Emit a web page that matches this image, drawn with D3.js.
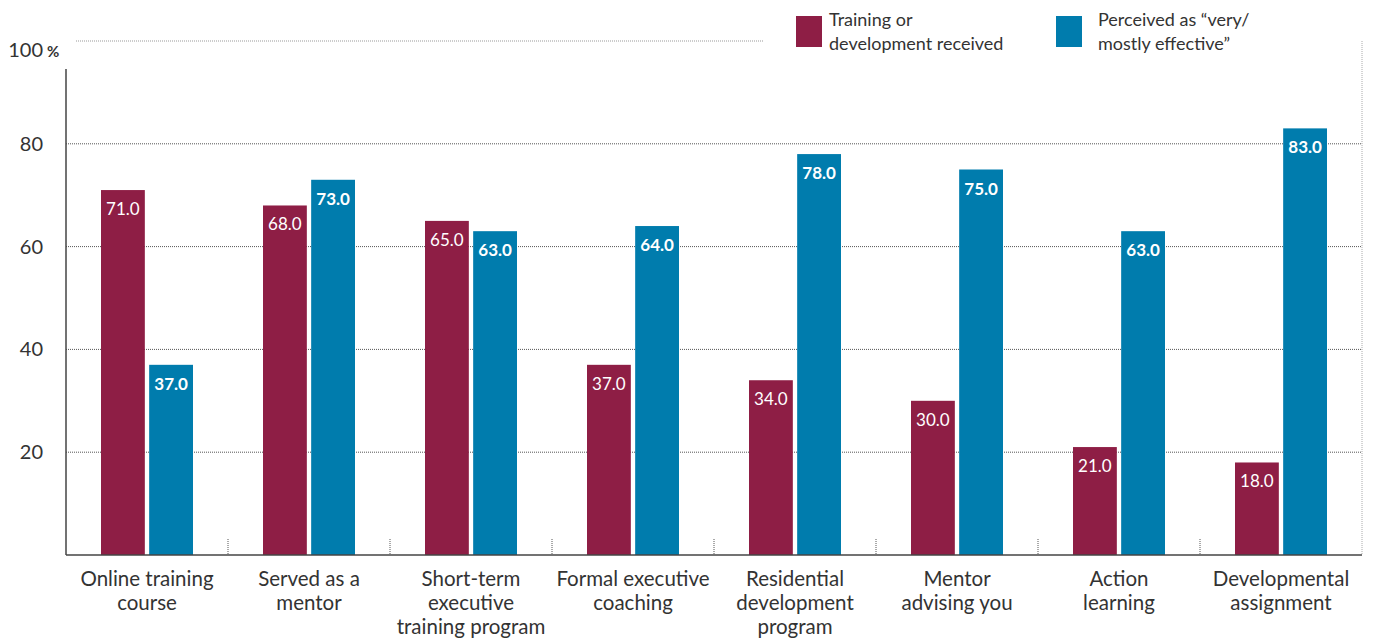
<!DOCTYPE html>
<html>
<head>
<meta charset="utf-8">
<script src="https://cdn.jsdelivr.net/npm/d3@7"></script>
<style>
  body { margin: 0; background: #fff; }
  svg { display: block; font-family: Lato, "Open Sans", sans-serif; }
</style>
</head>
<body>
<svg width="1375" height="639"></svg>
<script>
// data
var categories = [
  ["Online training", "course"],
  ["Served as a", "mentor"],
  ["Short-term", "executive", "training program"],
  ["Formal executive", "coaching"],
  ["Residential", "development", "program"],
  ["Mentor", "advising you"],
  ["Action", "learning"],
  ["Developmental", "assignment"]
];
var received = [71.0, 68.0, 65.0, 37.0, 34.0, 30.0, 21.0, 18.0];
var effective = [37.0, 73.0, 63.0, 64.0, 78.0, 75.0, 63.0, 83.0];
var yTicks = [20, 40, 60, 80, 100];
var seriesNames = ["received", "effective"];
var legendLabels = [["Training or", "development received"], ["Perceived as \u201cvery/", "mostly effective\u201d"]];

var colors = { received: "#8e1e45", effective: "#007cad" };

var svg = d3.select("svg");
var plotLeft = 66, plotRight = 1362, plotTop = 41, plotBottom = 555;

var keys = categories.map(function(d) { return d.join(" "); });

var x0 = d3.scaleBand().domain(keys).range([plotLeft, plotRight]).padding(0);
var bw = x0.bandwidth();
var x1 = d3.scaleBand().domain(seriesNames)
  .range([bw / 2 - 46, bw / 2 + 46]).paddingInner(0.09);

var y = d3.scaleLinear().domain([0, 100]).range([plotBottom, plotTop]);

// gridlines
var grid = svg.append("g").attr("class", "grid");
grid.selectAll("line")
  .data(yTicks)
  .enter().append("line")
    .attr("x1", function(d) { return d == 100 ? 76 : plotLeft; })
    .attr("x2", function(d) { return d == 100 ? 763 : plotRight; })
    .attr("y1", function(d) { return y(d); })
    .attr("y2", function(d) { return y(d); })
    .attr("stroke", function(d) { return d == 100 ? "#999" : "#555"; })
    .attr("stroke-width", 1)
    .attr("stroke-dasharray", "1,1");

// right border, dotted
svg.append("line")
  .attr("x1", plotRight).attr("x2", plotRight)
  .attr("y1", y(100)).attr("y2", plotBottom)
  .attr("stroke", "#aaa")
  .attr("stroke-dasharray", "1,1");

// y tick labels
svg.append("g").selectAll("text")
  .data(yTicks)
  .enter().append("text")
    .attr("x", 43)
    .attr("y", function(d) { return d == 100 ? y(d) + 16 : y(d) + 7; })
    .attr("text-anchor", "end")
    .attr("font-size", 20)
    .attr("fill", "#333")
    .text(function(d) { return d; });
svg.append("text")
  .attr("x", 47).attr("y", y(100) + 16)
  .attr("font-size", 15).attr("font-weight", "bold").attr("fill", "#333")
  .text("%");

// bars
var groups = svg.append("g").selectAll("g")
  .data(keys)
  .enter().append("g")
    .attr("transform", function(d) { return "translate(" + x0(d) + ",0)"; });

function pairs(d, i) {
  return [{k: "received", v: received[i]}, {k: "effective", v: effective[i]}];
}

groups.selectAll("rect")
  .data(pairs)
  .enter().append("rect")
    .attr("x", function(d) { return x1(d.k); })
    .attr("width", x1.bandwidth())
    .attr("y", function(d) { return y(d.v); })
    .attr("height", function(d) { return plotBottom - y(d.v); })
    .attr("fill", function(d) { return colors[d.k]; });

groups.selectAll("text.val")
  .data(pairs)
  .enter().append("text")
    .attr("class", "val")
    .attr("x", function(d) { return x1(d.k) + x1.bandwidth() / 2; })
    .attr("y", function(d) { return y(d.v) + 25; })
    .attr("text-anchor", "middle")
    .attr("font-size", 17)
    .attr("font-weight", function(d) { return d.k == "effective" ? "bold" : "normal"; })
    .attr("fill", "#fff")
    .text(function(d) { return d.v.toFixed(1); });

// axes lines
svg.append("line")
  .attr("x1", plotLeft).attr("x2", plotRight)
  .attr("y1", plotBottom).attr("y2", plotBottom)
  .attr("stroke", "#444").attr("stroke-width", 1.5);
svg.append("line")
  .attr("x1", plotLeft).attr("x2", plotLeft)
  .attr("y1", 69).attr("y2", plotBottom)
  .attr("stroke", "#444").attr("stroke-width", 1.5);

// separators between categories
svg.append("g").selectAll("line")
  .data(keys.slice(1))
  .enter().append("line")
    .attr("x1", function(d) { return x0(d); })
    .attr("x2", function(d) { return x0(d); })
    .attr("y1", plotBottom - 16).attr("y2", plotBottom)
    .attr("stroke", "#555")
    .attr("stroke-dasharray", "1,1");

// category labels
var catLabels = svg.append("g").selectAll("text")
  .data(categories)
  .enter().append("text")
    .attr("text-anchor", "middle")
    .attr("font-size", 20.5)
    .attr("fill", "#333")
    .attr("transform", function(d, i) { return "translate(" + (x0(keys[i]) + bw / 2) + ",586)"; });
catLabels.selectAll("tspan")
  .data(function(d) { return d; })
  .enter().append("tspan")
    .attr("x", 0)
    .attr("y", function(d, i) { return i * 24; })
    .text(function(d) { return d; });

// legend
var legend = svg.append("g").selectAll("g")
  .data(seriesNames)
  .enter().append("g")
    .attr("transform", function(d, i) { return "translate(" + (i == 0 ? 796 : 1056) + ",16)"; });
legend.append("rect")
  .attr("width", 26).attr("height", 31)
  .attr("fill", function(d) { return colors[d]; });
legend.append("text")
  .attr("font-size", 18)
  .attr("fill", "#333")
  .each(function(d, i) {
    d3.select(this).selectAll("tspan")
      .data(legendLabels[i])
      .enter().append("tspan")
        .attr("x", i == 0 ? 33 : 42)
        .attr("y", function(t, j) { return 10 + j * 24; })
        .text(function(t) { return t; });
  });
</script>
</body>
</html>
